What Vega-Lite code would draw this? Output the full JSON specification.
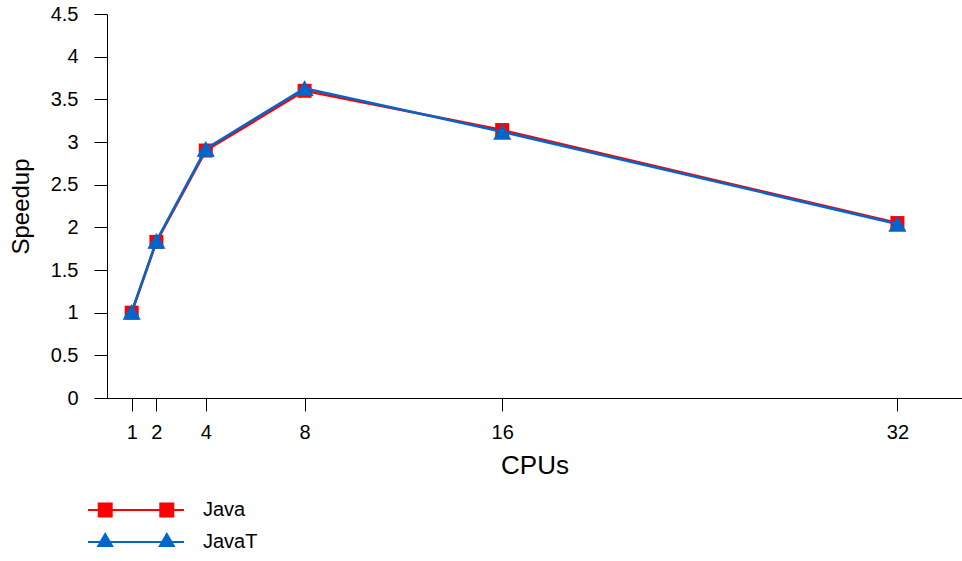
{
  "$schema": "https://vega.github.io/schema/vega-lite/v6.json",
  "width": 855,
  "height": 384,
  "autosize": {"type": "none"},
  "padding": {"left": 107, "top": 14, "right": 0, "bottom": 163},
  "background": "white",
  "config": {
    "view": {"stroke": null},
    "font": "Liberation Sans",
    "axis": {
      "grid": false,
      "domainColor": "black",
      "domainWidth": 1,
      "tickColor": "black",
      "tickWidth": 1,
      "tickSize": 13,
      "labelColor": "black",
      "labelFont": "Liberation Sans",
      "labelFontSize": 20,
      "titleColor": "black",
      "titleFont": "Liberation Sans",
      "titleFontWeight": "normal"
    }
  },
  "data": {
    "values": [
      {"cpus": 1, "speedup": 1.0, "series": "Java"},
      {"cpus": 2, "speedup": 1.83, "series": "Java"},
      {"cpus": 4, "speedup": 2.9, "series": "Java"},
      {"cpus": 8, "speedup": 3.6, "series": "Java"},
      {"cpus": 16, "speedup": 3.14, "series": "Java"},
      {"cpus": 32, "speedup": 2.05, "series": "Java"},
      {"cpus": 1, "speedup": 1.01, "series": "JavaT"},
      {"cpus": 2, "speedup": 1.84, "series": "JavaT"},
      {"cpus": 4, "speedup": 2.92, "series": "JavaT"},
      {"cpus": 8, "speedup": 3.63, "series": "JavaT"},
      {"cpus": 16, "speedup": 3.12, "series": "JavaT"},
      {"cpus": 32, "speedup": 2.04, "series": "JavaT"}
    ]
  },
  "encoding": {
    "x": {
      "field": "cpus",
      "type": "quantitative",
      "scale": {"domain": [0, 34.615], "nice": false, "zero": false},
      "axis": {
        "title": "CPUs",
        "titleFontSize": 26,
        "titlePadding": 10,
        "values": [1, 2, 4, 8, 16, 32],
        "labelPadding": 11,
        "labelFlush": false,
        "labelOverlap": false
      }
    },
    "y": {
      "field": "speedup",
      "type": "quantitative",
      "scale": {"domain": [0, 4.5], "nice": false},
      "axis": {
        "title": "Speedup",
        "titleFontSize": 24,
        "titlePadding": 17,
        "values": [0, 0.5, 1, 1.5, 2, 2.5, 3, 3.5, 4, 4.5],
        "format": "~g",
        "labelPadding": 16,
        "labelFlush": false,
        "labelOverlap": false
      }
    },
    "color": {
      "field": "series",
      "type": "nominal",
      "scale": {"domain": ["Java", "JavaT"], "range": ["#ff0000", "#0066cc"]},
      "legend": {
        "title": null,
        "orient": "none",
        "legendX": 19,
        "legendY": 486,
        "padding": 0,
        "symbolSize": 400,
        "labelOffset": 57,
        "labelFontSize": 20,
        "labelFont": "Liberation Sans",
        "labelColor": "black",
        "rowPadding": 12,
        "encode": {
          "symbols": {
            "update": {
              "shape": {"signal": "datum.value === 'Java' ? 'M-4.8,-0.1 L4.8,-0.1 L4.8,0.1 L-4.8,0.1 Z M-3.83,-0.75 L-2.33,-0.75 L-2.33,0.75 L-3.83,0.75 Z M2.33,-0.75 L3.83,-0.75 L3.83,0.75 L2.33,0.75 Z' : 'M-4.8,-0.1 L4.8,-0.1 L4.8,0.1 L-4.8,0.1 Z M-3.08,-1.0 L-2.21,0.5 L-3.95,0.5 Z M3.08,-1.0 L3.95,0.5 L2.21,0.5 Z'"},
              "size": {"value": 400},
              "fill": {"scale": "color", "field": "value"},
              "fillOpacity": {"value": 1},
              "opacity": {"value": 1},
              "strokeWidth": {"value": 0}
            }
          }
        }
      }
    }
  },
  "layer": [
    {
      "transform": [{"filter": "datum.series === 'Java'"}],
      "mark": {"type": "line", "strokeWidth": 2.5}
    },
    {
      "transform": [{"filter": "datum.series === 'Java'"}],
      "mark": {"type": "point", "filled": true, "opacity": 1, "shape": "square", "size": 196}
    },
    {
      "transform": [{"filter": "datum.series === 'JavaT'"}],
      "mark": {"type": "line", "strokeWidth": 2.5}
    },
    {
      "transform": [{"filter": "datum.series === 'JavaT'"}],
      "mark": {"type": "point", "filled": true, "opacity": 1, "shape": "triangle-up", "size": 330}
    }
  ]
}
